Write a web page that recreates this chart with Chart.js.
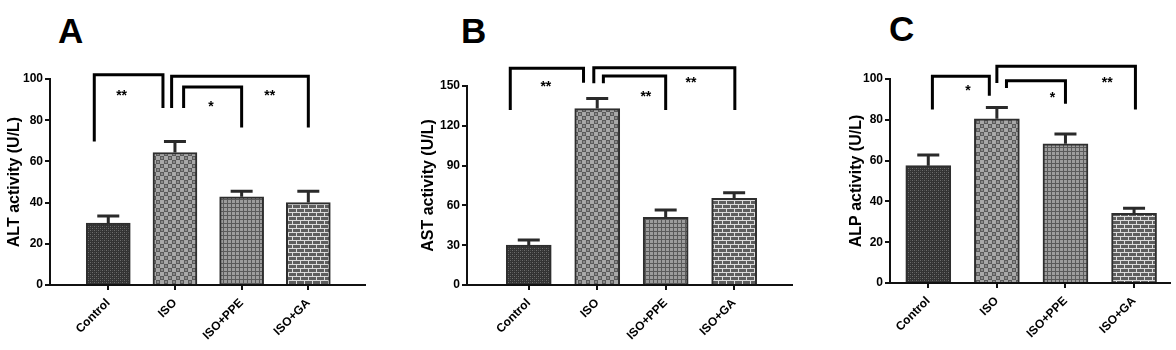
<!DOCTYPE html>
<html>
<head>
<meta charset="utf-8">
<script src="https://cdn.jsdelivr.net/npm/chart.js@4.4.1/dist/chart.umd.min.js"></script>
<style>
  body { margin: 0; background: #fff; width: 1176px; height: 350px; overflow: hidden; position: relative; }
  canvas { position: absolute; top: 0; }
  .tag { position: absolute; font: bold 35px "Liberation Sans", Arial, sans-serif; line-height: 35px; color: #000; }
</style>
</head>
<body>
<div class="tag" style="left:58px;top:13px">A</div>
<div class="tag" style="left:461px;top:13px">B</div>
<div class="tag" style="left:889px;top:11px">C</div>
<canvas id="chartA" width="390" height="350" style="left:0px"></canvas>
<canvas id="chartB" width="420" height="350" style="left:390px"></canvas>
<canvas id="chartC" width="396" height="350" style="left:780px"></canvas>
<script>
const categories = ["Control", "ISO", "ISO+PPE", "ISO+GA"];

const altMeans = [30, 64.3, 42.8, 40];
const altErrors = [3.5, 5.4, 2.7, 5.5];
const astMeans = [30, 133, 51, 65.3];
const astErrors = [4, 7.5, 5.5, 4.3];
const alpMeans = [57.5, 80.5, 68.2, 34.1];
const alpErrors = [5.3, 5.5, 4.9, 2.5];

const altTicks = [0, 20, 40, 60, 80, 100];
const astTicks = [0, 30, 60, 90, 120, 150];
const alpTicks = [0, 20, 40, 60, 80, 100];

// brackets: [x start, x end, top, left leg end, right leg end] (category index / y units)
const altBrackets = [[-0.21, 0.82, 102.1, 69.7, 85.9], [0.95, 3.0, 101.3, 85.9, 76.5], [1.13, 2.0, 96.1, 85.9, 76.5]];
const astBrackets = [[-0.27, 0.80, 163.3, 131.9, 152.5], [0.95, 3.01, 163.8, 152, 131.9], [1.09, 2.0, 157.5, 152, 131.9]];
const alpBrackets = [[0.06, 0.89, 101.3, 85, 91.8], [1.0, 3.02, 106.2, 98.1, 85], [1.14, 2.0, 99.2, 95.6, 87.9]];

// stars: [text, x, y]
const altStars = [["**", 0.20, 93.5], ["**", 2.42, 93.5], ["*", 1.54, 88.3]];
const astStars = [["**", 0.25, 152.4], ["**", 2.37, 155.2], ["**", 1.71, 144.5]];
const alpStars = [["*", 0.58, 96.1], ["**", 2.61, 100], ["*", 1.81, 92.8]];

function pattern(kind) {
  const c = document.createElement("canvas");
  const g = c.getContext("2d");
  if (kind === 0) {
    c.width = 4; c.height = 4;
    g.fillStyle = "#333"; g.fillRect(0, 0, 4, 4);
    g.fillStyle = "#6e6e6e"; g.fillRect(0, 0, 1, 1); g.fillRect(2, 2, 1, 1);
    g.fillStyle = "#4e4e4e"; g.fillRect(2, 0, 1, 1); g.fillRect(0, 2, 1, 1);
  } else if (kind === 1) {
    c.width = 8; c.height = 8;
    g.fillStyle = "#5a5a5a"; g.fillRect(0, 0, 8, 8);
    g.fillStyle = "#a8a8a8"; g.fillRect(0, 0, 4, 4); g.fillRect(4, 4, 4, 4);
    g.fillStyle = "#8a8a8a"; g.fillRect(5, 1, 2, 2); g.fillRect(1, 5, 2, 2);
  } else if (kind === 2) {
    c.width = 4; c.height = 4;
    g.fillStyle = "#9c9c9c"; g.fillRect(0, 0, 4, 4);
    g.fillStyle = "#5a5a5a"; g.fillRect(0, 3, 4, 1); g.fillRect(3, 0, 1, 4);
  } else {
    c.width = 8; c.height = 8;
    g.fillStyle = "#5e5e5e"; g.fillRect(0, 0, 8, 8);
    g.fillStyle = "#dcdcdc"; g.fillRect(0, 0, 8, 1); g.fillRect(0, 4, 8, 1);
    g.fillRect(0, 1, 1, 3); g.fillRect(4, 5, 1, 3);
  }
  return document.createElement("canvas").getContext("2d").createPattern(c, "repeat");
}
const fills = [pattern(0), pattern(1), pattern(2), pattern(3)];

const sigPlugin = {
  id: "sig",
  afterDatasetsDraw(chart, args, opts) {
    const ctx = chart.ctx, xs = chart.scales.x, ys = chart.scales.y;
    const ds = chart.data.datasets[0];
    const meta = chart.getDatasetMeta(0);
    ctx.save();
    // error bars (upper whisker only)
    ctx.strokeStyle = "#2a2a2a";
    ctx.lineWidth = 3;
    meta.data.forEach((bar, i) => {
      const yTop = ys.getPixelForValue(ds.means[i] + ds.errors[i]);
      ctx.beginPath();
      ctx.moveTo(bar.x, bar.y);
      ctx.lineTo(bar.x, yTop);
      ctx.moveTo(bar.x - 11, yTop);
      ctx.lineTo(bar.x + 11, yTop);
      ctx.stroke();
    });
    // brackets
    ctx.strokeStyle = "#000";
    ctx.lineWidth = 3;
    ctx.lineJoin = "miter";
    opts.brackets.forEach(b => {
      const x1 = xs.getPixelForValue(b[0]), x2 = xs.getPixelForValue(b[1]);
      ctx.beginPath();
      ctx.moveTo(x1, ys.getPixelForValue(b[3]));
      ctx.lineTo(x1, ys.getPixelForValue(b[2]));
      ctx.lineTo(x2, ys.getPixelForValue(b[2]));
      ctx.lineTo(x2, ys.getPixelForValue(b[4]));
      ctx.stroke();
    });
    ctx.fillStyle = "#000";
    ctx.font = 'bold 14px "Liberation Sans", Arial, sans-serif';
    ctx.textAlign = "center";
    ctx.textBaseline = "alphabetic";
    opts.stars.forEach(s => {
      ctx.fillText(s[0], xs.getPixelForValue(s[1]), ys.getPixelForValue(s[2]) + 8);
    });
    ctx.restore();
  }
};

function makeChart(id, title, means, errors, yTicks, brackets, stars, box) {
  const font = { family: '"Liberation Sans", Arial, sans-serif', weight: "bold" };
  new Chart(document.getElementById(id), {
    type: "bar",
    data: {
      datasets: [{
        data: means.map((v, i) => ({ x: i, y: v })),
        means: means,
        errors: errors,
        backgroundColor: fills,
        borderColor: "#2e2e2e",
        borderWidth: 2,
        borderSkipped: "bottom",
        barThickness: box.bar
      }]
    },
    options: {
      responsive: false,
      animation: false,
      devicePixelRatio: 1,
      layout: { padding: { left: box.padLeft, top: box.top, right: box.padRight, bottom: 0 } },
      plugins: {
        legend: { display: false },
        tooltip: { enabled: false },
        sig: { brackets: brackets, stars: stars }
      },
      scales: {
        x: {
          type: "linear",
          offset: false,
          min: box.xmin,
          max: box.xmax,
          afterFit: s => { s.height = box.xh; },
          afterBuildTicks: s => { s.ticks = categories.map((c, i) => ({ value: i })); },
          ticks: {
            callback: v => categories[v],
            color: "#000",
            font: Object.assign({ size: 12 }, font),
            minRotation: 45,
            maxRotation: 45,
            padding: 6,
            autoSkip: false
          },
          grid: { offset: false, drawOnChartArea: false, color: "#111", lineWidth: 2, tickLength: 5 },
          border: { color: "#111", width: 2 }
        },
        y: {
          min: yTicks[0],
          max: yTicks[yTicks.length - 1],
          afterFit: s => { s.width = box.left - box.padLeft; },
          afterBuildTicks: s => { s.ticks = yTicks.map(v => ({ value: v })); },
          ticks: { color: "#000", font: Object.assign({ size: 12 }, font), padding: 2 },
          grid: { drawOnChartArea: false, color: "#111", lineWidth: 2, tickLength: 5 },
          border: { color: "#111", width: 2 },
          title: {
            display: true,
            text: title,
            color: "#000",
            font: Object.assign({ size: 16 }, font),
            padding: { top: 5, bottom: 0 }
          }
        }
      }
    },
    plugins: [sigPlugin]
  });
}

makeChart("chartA", "ALT activity (U/L)", altMeans, altErrors, altTicks, altBrackets, altStars,
  { padLeft: 0, left: 50, top: 79, padRight: 25, xh: 65, xmin: -0.874, xmax: 3.85, bar: 44 });
makeChart("chartB", "AST activity (U/L)", astMeans, astErrors, astTicks, astBrackets, astStars,
  { padLeft: 24, left: 77, top: 86, padRight: 18, xh: 65, xmin: -0.902, xmax: 3.845, bar: 45 });
makeChart("chartC", "ALP activity (U/L)", alpMeans, alpErrors, alpTicks, alpBrackets, alpStars,
  { padLeft: 62, left: 110, top: 79, padRight: 6, xh: 67, xmin: -0.558, xmax: 3.524, bar: 45 });
</script>
</body>
</html>
